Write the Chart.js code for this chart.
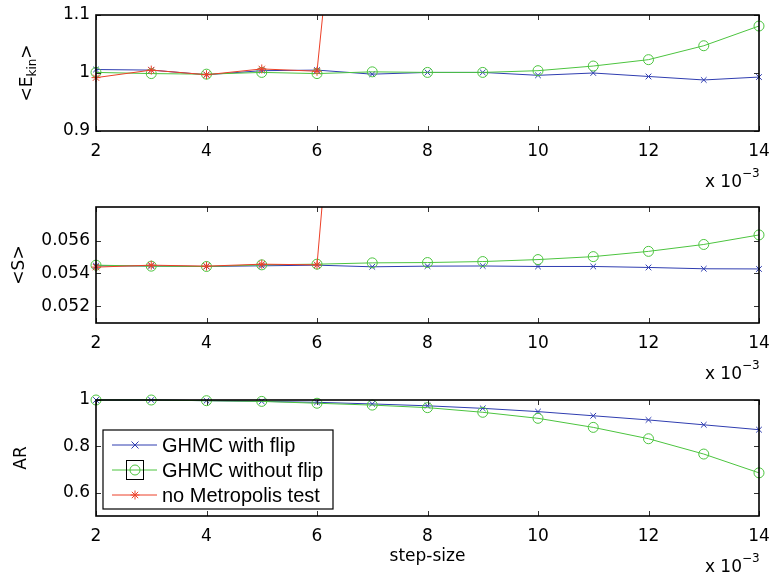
<!DOCTYPE html>
<html>
<head>
<meta charset="utf-8">
<script src="https://cdn.jsdelivr.net/npm/chart.js@4.4.1/dist/chart.umd.min.js"></script>
<style>
  html, body { margin: 0; padding: 0; background: #fff; }
  #wrap { position: relative; width: 772px; height: 577px; }
  .panel { position: absolute; left: 0; width: 772px; height: 192px; }
</style>
</head>
<body>
<div id="wrap">
  <div class="panel" style="top:0px"><canvas id="ekinChart"></canvas></div>
  <div class="panel" style="top:192px"><canvas id="sChart"></canvas></div>
  <div class="panel" style="top:385px"><canvas id="arChart"></canvas></div>
</div>
<script>
// step size (x 10^-3)
const stepSizes = [2, 3, 4, 5, 6, 7, 8, 9, 10, 11, 12, 13, 14];
const xTicks = [2, 4, 6, 8, 10, 12, 14];

const seriesNames = ['GHMC with flip', 'GHMC without flip', 'no Metropolis test'];

// <E_kin>
const ekinFlip   = [1.006, 1.005, 0.997, 1.004, 1.005, 0.998, 1.001, 1.001, 0.996, 1.000, 0.994, 0.988, 0.993];
const ekinNoFlip = [1.001, 0.999, 0.998, 1.001, 0.999, 1.002, 1.001, 1.001, 1.004, 1.012, 1.023, 1.047, 1.081];
const ekinNoTest = [0.992, 1.005, 0.997, 1.007, 1.003, 1.94, null, null, null, null, null, null, null];
const ekinTicks = [0.9, 1, 1.1];

// <S>
const sFlip   = [0.05446, 0.05445, 0.05442, 0.05446, 0.0545, 0.0544, 0.05444, 0.05445, 0.05442, 0.05442, 0.05436, 0.05428, 0.05427];
const sNoFlip = [0.0545, 0.05444, 0.05442, 0.05452, 0.05456, 0.05464, 0.05466, 0.05472, 0.05484, 0.05502, 0.05534, 0.05576, 0.05634];
const sNoTest = [0.05438, 0.0545, 0.05444, 0.05456, 0.05452, 0.0935, null, null, null, null, null, null, null];
const sTicks = [0.052, 0.054, 0.056];

// AR (acceptance rate)
const arFlip   = [1.0, 1.0, 0.997, 0.994, 0.99, 0.983, 0.975, 0.964, 0.95, 0.932, 0.914, 0.893, 0.872];
const arNoFlip = [1.0, 1.0, 0.997, 0.994, 0.986, 0.978, 0.967, 0.947, 0.921, 0.882, 0.833, 0.767, 0.686];
const arNoTest = [null, null, null, null, null, null, null, null, null, null, null, null, null];
const arTicks = [0.6, 0.8, 1];

const BLUE = '#2f3db0';
const GREEN = '#4cc43f';
const RED = '#ec4028';
const TICK_FONT = 'DejaVu Sans';

Chart.defaults.color = '#000';
Chart.defaults.font.family = TICK_FONT;

const toPoints = arr => stepSizes.map((x, i) => ({ x: x, y: arr[i] }));

function drawMarker(ctx, style, x, y, color) {
    ctx.save();
    ctx.strokeStyle = color;
    ctx.lineWidth = 1;
    ctx.beginPath();
    if (style === 'crossRot') {
        ctx.moveTo(x - 3.5, y - 3.5); ctx.lineTo(x + 3.5, y + 3.5);
        ctx.moveTo(x + 3.5, y - 3.5); ctx.lineTo(x - 3.5, y + 3.5);
    } else if (style === 'circle') {
        ctx.arc(x, y, 5, 0, Math.PI * 2);
    } else {
        for (let k = 0; k < 4; k++) {
            const a = k * Math.PI / 4;
            ctx.moveTo(x - 4.5 * Math.cos(a), y - 4.5 * Math.sin(a));
            ctx.lineTo(x + 4.5 * Math.cos(a), y + 4.5 * Math.sin(a));
        }
    }
    ctx.stroke();
    ctx.restore();
}

// frame, inward ticks, y title, "x 10^-3" and optional extras
const matlabAxes = {
    id: 'matlabAxes',
    afterDraw(chart, args, opts) {
        const ctx = chart.ctx;
        const ca = chart.chartArea;
        const xs = chart.scales.x, ys = chart.scales.y;
        ctx.save();

        // inward ticks
        ctx.strokeStyle = '#333';
        ctx.lineWidth = 1;
        ctx.beginPath();
        xs.ticks.forEach(t => {
            const px = Math.round(xs.getPixelForValue(t.value)) + 0.5;
            ctx.moveTo(px, ca.top); ctx.lineTo(px, ca.top + 5);
            ctx.moveTo(px, ca.bottom); ctx.lineTo(px, ca.bottom - 5);
        });
        ys.ticks.forEach(t => {
            const py = Math.round(ys.getPixelForValue(t.value)) + 0.5;
            ctx.moveTo(ca.left, py); ctx.lineTo(ca.left + 5, py);
            ctx.moveTo(ca.right, py); ctx.lineTo(ca.right - 5, py);
        });
        ctx.stroke();

        // box
        ctx.strokeStyle = '#000';
        ctx.lineWidth = 1.6;
        ctx.strokeRect(ca.left, ca.top, ca.right - ca.left, ca.bottom - ca.top);

        // y title (rotated, with optional subscript)
        ctx.fillStyle = '#000';
        ctx.translate(opts.titleX, (ca.top + ca.bottom) / 2);
        ctx.rotate(-Math.PI / 2);
        ctx.textBaseline = 'middle';
        ctx.textAlign = 'left';
        const big = '17px "' + TICK_FONT + '"', small = '12px "' + TICK_FONT + '"';
        const parts = opts.title;
        let total = 0;
        parts.forEach(p => { ctx.font = p.sub ? small : big; total += ctx.measureText(p.text).width; });
        let cx = -total / 2;
        parts.forEach(p => {
            ctx.font = p.sub ? small : big;
            ctx.fillText(p.text, cx, p.sub ? 5 : 0);
            cx += ctx.measureText(p.text).width;
        });
        ctx.setTransform(1, 0, 0, 1, 0, 0);

        // exponent label
        ctx.textBaseline = 'alphabetic';
        ctx.font = big;
        ctx.textAlign = 'right';
        ctx.fillText('x 10', ca.right - 17, ca.bottom + 56);
        ctx.font = small;
        ctx.textAlign = 'left';
        ctx.fillText('\u22123', ca.right - 17, ca.bottom + 46);

        if (opts.xTitle) {
            ctx.font = big;
            ctx.textAlign = 'center';
            ctx.fillText(opts.xTitle, (ca.left + ca.right) / 2, ca.bottom + 45);
        }

        if (opts.legend) {
            const lx = ca.left + 7, ly = ca.top + 30;
            ctx.fillStyle = '#fff';
            ctx.fillRect(lx, ly, 230, 79);
            ctx.strokeStyle = '#000';
            ctx.lineWidth = 1.2;
            ctx.strokeRect(lx, ly, 230, 79);
            chart.data.datasets.forEach((ds, i) => {
                const ry = ly + 15 + i * 25;
                ctx.strokeStyle = ds.borderColor;
                ctx.lineWidth = 1;
                ctx.beginPath();
                ctx.moveTo(lx + 9, ry); ctx.lineTo(lx + 54, ry);
                ctx.stroke();
                drawMarker(ctx, ds.pointStyle, lx + 32, ry, ds.borderColor);
                if (i === 1) {
                    ctx.strokeStyle = '#000';
                    ctx.lineWidth = 1;
                    ctx.strokeRect(lx + 23.5, ry - 9.5, 17, 19);
                }
                ctx.fillStyle = '#000';
                ctx.font = '20px "Liberation Sans"';
                ctx.textAlign = 'left';
                ctx.textBaseline = 'middle';
                ctx.fillText(ds.label, lx + 59, ry + 1);
            });
        }
        ctx.restore();
    }
};

function makePanel(id, flip, noFlip, noTest, yMin, yMax, yTicks, extra) {
    const ctx = document.getElementById(id).getContext('2d');
    return new Chart(ctx, {
        type: 'line',
        data: {
            datasets: [
                {
                    label: seriesNames[0],
                    data: toPoints(flip),
                    borderColor: BLUE,
                    borderWidth: 1,
                    pointStyle: 'crossRot',
                    pointRadius: 4,
                    pointBorderWidth: 1,
                    pointBorderColor: BLUE,
                    order: 3,
                    clip: false,
                },
                {
                    label: seriesNames[1],
                    data: toPoints(noFlip),
                    borderColor: GREEN,
                    borderWidth: 1,
                    pointStyle: 'circle',
                    pointRadius: 5,
                    pointBorderWidth: 1,
                    pointBackgroundColor: 'rgba(0,0,0,0)',
                    pointBorderColor: GREEN,
                    order: 2,
                    clip: false,
                },
                {
                    label: seriesNames[2],
                    data: toPoints(noTest),
                    borderColor: RED,
                    borderWidth: 1,
                    pointStyle: 'star',
                    pointRadius: 4.5,
                    pointBorderWidth: 1,
                    pointBorderColor: RED,
                    order: 1,
                    spanGaps: false,
                    clip: { left: 8, top: 0, right: 8, bottom: 8 },
                },
            ],
        },
        options: {
            responsive: true,
            maintainAspectRatio: false,
            animation: false,
            layout: { padding: { left: 0, right: 13, top: 15, bottom: 21 } },
            scales: {
                x: {
                    type: 'linear',
                    min: 2,
                    max: 14,
                    grid: { display: false, drawTicks: false },
                    border: { display: false },
                    afterBuildTicks: s => { s.ticks = xTicks.map(v => ({ value: v })); },
                    afterFit: s => {
                        s.height = 40;
                        s.paddingLeft = 0;
                        s.paddingRight = 0;
                    },
                    ticks: {
                        padding: 10,
                        maxRotation: 0,
                        font: { size: 17 },
                        callback: v => String(v),
                    },
                },
                y: {
                    min: yMin,
                    max: yMax,
                    grid: { display: false, drawTicks: false },
                    border: { display: false },
                    afterBuildTicks: s => { s.ticks = yTicks.map(v => ({ value: v })); },
                    afterFit: s => {
                        s.width = 96;
                        s.paddingTop = 0;
                        s.paddingBottom = 0;
                    },
                    ticks: {
                        padding: 6,
                        font: { size: 17 },
                        callback: v => String(v),
                    },
                },
            },
            plugins: {
                legend: { display: false },
                tooltip: { enabled: false },
                matlabAxes: extra,
            },
        },
        plugins: [matlabAxes],
    });
}

makePanel('ekinChart', ekinFlip, ekinNoFlip, ekinNoTest, 0.9, 1.1, ekinTicks, {
    titleX: 28,
    title: [{ text: '<E' }, { text: 'kin', sub: true }, { text: '>' }],
});
makePanel('sChart', sFlip, sNoFlip, sNoTest, 0.05098, 0.05804, sTicks, {
    titleX: 20,
    title: [{ text: '<S>' }],
});
makePanel('arChart', arFlip, arNoFlip, arNoTest, 0.5, 1.0, arTicks, {
    titleX: 22,
    title: [{ text: 'AR' }],
    xTitle: 'step-size',
    legend: true,
});
</script>
</body>
</html>
